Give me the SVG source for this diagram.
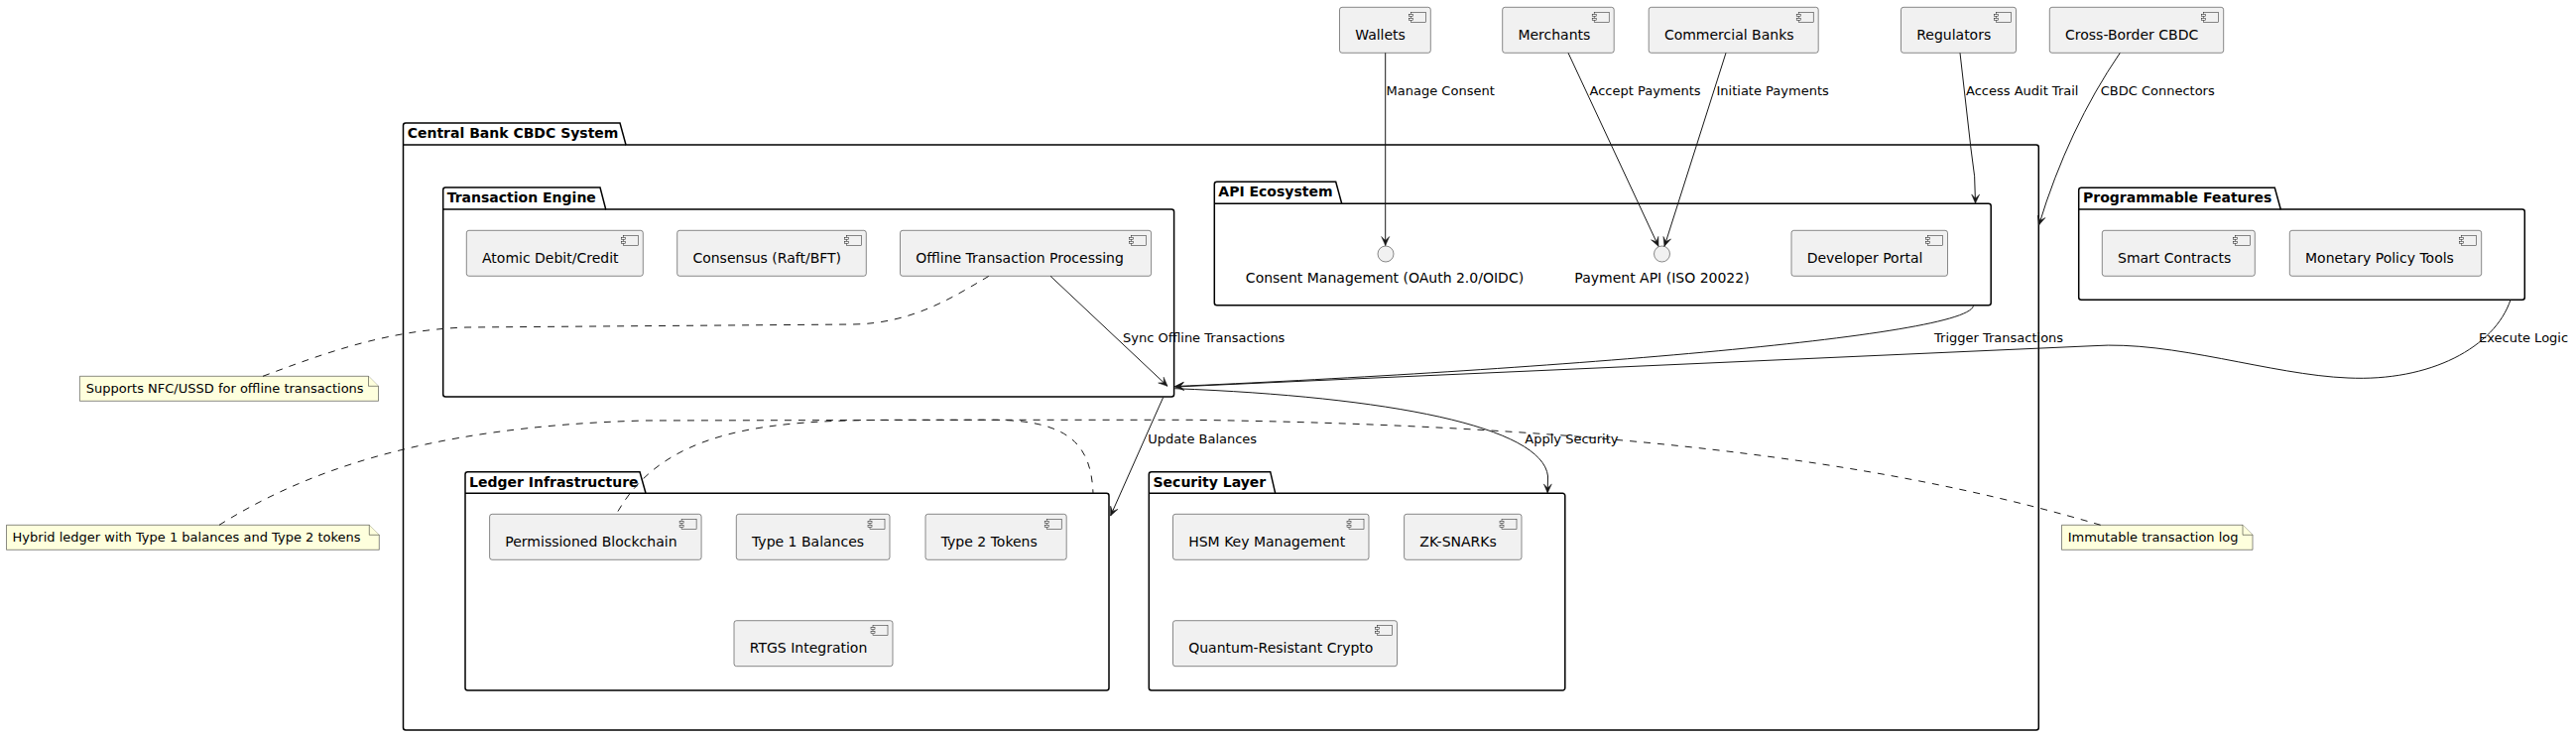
<svg xmlns="http://www.w3.org/2000/svg" xmlns:xlink="http://www.w3.org/1999/xlink" width="2597" height="742" viewBox="0 0 2597 742">
<style>
  .pkg { fill: none; stroke: #000000; stroke-width: 1.5; }
  .pkgt { font-family: "DejaVu Sans", "Liberation Sans", sans-serif; font-size: 14px; font-weight: bold; fill: #000000; }
  .comp { fill: #F1F1F1; stroke: #181818; stroke-width: 0.5; }
  .ct { font-family: "DejaVu Sans", "Liberation Sans", sans-serif; font-size: 14px; fill: #000000; }
  .lt { font-family: "DejaVu Sans", "Liberation Sans", sans-serif; font-size: 13px; fill: #000000; }
  .note { fill: #FEFFDD; stroke: #181818; stroke-width: 0.5; }
  .edge { fill: none; stroke: #181818; stroke-width: 1; }
  .dash { fill: none; stroke: #181818; stroke-width: 1; stroke-dasharray: 7,7; }
  .ifc { fill: #F1F1F1; stroke: #181818; stroke-width: 0.5; }
</style>
<defs>
  <g id="cicon" class="comp">
    <rect x="-20" y="5" width="15" height="10"/>
    <rect x="-22" y="7" width="4" height="2"/>
    <rect x="-22" y="11" width="4" height="2"/>
  </g>
  <marker id="ah" viewBox="-10 -5 11 10" refX="0" refY="0" markerWidth="11" markerHeight="10" markerUnits="userSpaceOnUse" orient="auto">
    <path d="M0,0 L-9,-4 L-5,0 L-9,4 Z" fill="#181818" stroke="#181818" stroke-width="0.5"/>
  </marker>
</defs>
<rect width="2597" height="742" fill="#FFFFFF"/>

<!-- Packages -->
<g id="pkg-central-bank">
  <path class="pkg" d="M409,124 L625,124 L631,146 L2052.8,146 A2.5,2.5 0 0 1 2055.3,148.5 L2055.3,733.5 A2.5,2.5 0 0 1 2052.8,736 L409,736 A2.5,2.5 0 0 1 406.5,733.5 L406.5,126.5 A2.5,2.5 0 0 1 409,124 Z"/>
  <line class="pkg" x1="406.5" y1="146" x2="631" y2="146"/>
  <text class="pkgt" x="410.7" y="138.5">Central Bank CBDC System</text>
</g>
<g id="pkg-transaction-engine">
  <path class="pkg" d="M449.2,189 L605,189 L610.7,211 L1181.1,211 A2.5,2.5 0 0 1 1183.6,213.5 L1183.6,397.5 A2.5,2.5 0 0 1 1181.1,400 L449.2,400 A2.5,2.5 0 0 1 446.7,397.5 L446.7,191.5 A2.5,2.5 0 0 1 449.2,189 Z"/>
  <line class="pkg" x1="446.7" y1="211" x2="610.7" y2="211"/>
  <text class="pkgt" x="450.7" y="203.5">Transaction Engine</text>
</g>
<g id="pkg-api-ecosystem">
  <path class="pkg" d="M1226.8,183.3 L1346.7,183.3 L1352.7,205.3 L2004.7,205.3 A2.5,2.5 0 0 1 2007.2,207.8 L2007.2,305.3 A2.5,2.5 0 0 1 2004.7,307.8 L1226.8,307.8 A2.5,2.5 0 0 1 1224.3,305.3 L1224.3,185.8 A2.5,2.5 0 0 1 1226.8,183.3 Z"/>
  <line class="pkg" x1="1224.3" y1="205.3" x2="1352.7" y2="205.3"/>
  <text class="pkgt" x="1228.3" y="198.3">API Ecosystem</text>
</g>
<g id="pkg-programmable">
  <path class="pkg" d="M2098.2,189.3 L2293.3,189.3 L2299.3,211 L2542.8,211 A2.5,2.5 0 0 1 2545.3,213.5 L2545.3,299.8 A2.5,2.5 0 0 1 2542.8,302.3 L2098.2,302.3 A2.5,2.5 0 0 1 2095.7,299.8 L2095.7,191.8 A2.5,2.5 0 0 1 2098.2,189.3 Z"/>
  <line class="pkg" x1="2095.7" y1="211" x2="2299.3" y2="211"/>
  <text class="pkgt" x="2100" y="204">Programmable Features</text>
</g>
<g id="pkg-ledger">
  <path class="pkg" d="M471.5,475.7 L645,475.7 L651,497.3 L1115.5,497.3 A2.5,2.5 0 0 1 1118,499.8 L1118,693.5 A2.5,2.5 0 0 1 1115.5,696 L471.5,696 A2.5,2.5 0 0 1 469,693.5 L469,478.2 A2.5,2.5 0 0 1 471.5,475.7 Z"/>
  <line class="pkg" x1="469" y1="497.3" x2="651" y2="497.3"/>
  <text class="pkgt" x="473" y="490.5">Ledger Infrastructure</text>
</g>
<g id="pkg-security">
  <path class="pkg" d="M1160.8,475.7 L1280.7,475.7 L1285.7,497.3 L1575.3,497.3 A2.5,2.5 0 0 1 1577.8,499.8 L1577.8,693.5 A2.5,2.5 0 0 1 1575.3,696 L1160.8,696 A2.5,2.5 0 0 1 1158.3,693.5 L1158.3,478.2 A2.5,2.5 0 0 1 1160.8,475.7 Z"/>
  <line class="pkg" x1="1158.3" y1="497.3" x2="1285.7" y2="497.3"/>
  <text class="pkgt" x="1162.5" y="490.5">Security Layer</text>
</g>

<!-- External components -->
<g id="wallets"><rect class="comp" x="1350.5" y="7.3" width="91.8" height="46" rx="2.5"/><use xlink:href="#cicon" href="#cicon" x="1442.3" y="7.3"/><text class="ct" x="1366.2" y="40">Wallets</text></g>
<g id="merchants"><rect class="comp" x="1514.7" y="7.3" width="112.5" height="46" rx="2.5"/><use xlink:href="#cicon" href="#cicon" x="1627.2" y="7.3"/><text class="ct" x="1530.4" y="40">Merchants</text></g>
<g id="commercial-banks"><rect class="comp" x="1662.2" y="7.3" width="171" height="46" rx="2.5"/><use xlink:href="#cicon" href="#cicon" x="1833.2" y="7.3"/><text class="ct" x="1677.9" y="40">Commercial Banks</text></g>
<g id="regulators"><rect class="comp" x="1916.5" y="7.3" width="116" height="46" rx="2.5"/><use xlink:href="#cicon" href="#cicon" x="2032.5" y="7.3"/><text class="ct" x="1932.2" y="40">Regulators</text></g>
<g id="cross-border"><rect class="comp" x="2066.3" y="7.3" width="175.4" height="46" rx="2.5"/><use xlink:href="#cicon" href="#cicon" x="2241.7" y="7.3"/><text class="ct" x="2082" y="40">Cross-Border CBDC</text></g>

<!-- Transaction Engine components -->
<g id="atomic"><rect class="comp" x="470.3" y="232.3" width="178" height="46" rx="2.5"/><use xlink:href="#cicon" href="#cicon" x="648.3" y="232.3"/><text class="ct" x="486" y="265">Atomic Debit/Credit</text></g>
<g id="consensus"><rect class="comp" x="682.7" y="232.3" width="190.6" height="46" rx="2.5"/><use xlink:href="#cicon" href="#cicon" x="873.3" y="232.3"/><text class="ct" x="698.4" y="265">Consensus (Raft/BFT)</text></g>
<g id="offline"><rect class="comp" x="907.5" y="232.3" width="253.1" height="46" rx="2.5"/><use xlink:href="#cicon" href="#cicon" x="1160.6" y="232.3"/><text class="ct" x="923.2" y="265">Offline Transaction Processing</text></g>

<!-- API Ecosystem -->
<g id="consent-api"><circle class="ifc" cx="1397" cy="256" r="8"/><text class="ct" x="1396" y="285" text-anchor="middle">Consent Management (OAuth 2.0/OIDC)</text></g>
<g id="payment-api"><circle class="ifc" cx="1675.5" cy="256" r="8"/><text class="ct" x="1675.5" y="285" text-anchor="middle">Payment API (ISO 20022)</text></g>
<g id="developer-portal"><rect class="comp" x="1806" y="232.3" width="157.5" height="46" rx="2.5"/><use xlink:href="#cicon" href="#cicon" x="1963.5" y="232.3"/><text class="ct" x="1821.7" y="265">Developer Portal</text></g>

<!-- Programmable Features -->
<g id="smart-contracts"><rect class="comp" x="2119.3" y="232.3" width="154" height="46" rx="2.5"/><use xlink:href="#cicon" href="#cicon" x="2273.3" y="232.3"/><text class="ct" x="2135" y="265">Smart Contracts</text></g>
<g id="monetary-policy"><rect class="comp" x="2308.3" y="232.3" width="193.4" height="46" rx="2.5"/><use xlink:href="#cicon" href="#cicon" x="2501.7" y="232.3"/><text class="ct" x="2324" y="265">Monetary Policy Tools</text></g>

<!-- Ledger -->
<g id="permissioned"><rect class="comp" x="493.6" y="518.3" width="213.5" height="46" rx="2.5"/><use xlink:href="#cicon" href="#cicon" x="707.1" y="518.3"/><text class="ct" x="509.3" y="551">Permissioned Blockchain</text></g>
<g id="type1"><rect class="comp" x="742.3" y="518.3" width="154.7" height="46" rx="2.5"/><use xlink:href="#cicon" href="#cicon" x="897" y="518.3"/><text class="ct" x="758" y="551">Type 1 Balances</text></g>
<g id="type2"><rect class="comp" x="933" y="518.3" width="142.2" height="46" rx="2.5"/><use xlink:href="#cicon" href="#cicon" x="1075.2" y="518.3"/><text class="ct" x="948.7" y="551">Type 2 Tokens</text></g>
<g id="rtgs"><rect class="comp" x="740" y="625.7" width="160" height="46" rx="2.5"/><use xlink:href="#cicon" href="#cicon" x="900" y="625.7"/><text class="ct" x="755.7" y="658.4">RTGS Integration</text></g>

<!-- Security -->
<g id="hsm"><rect class="comp" x="1182.5" y="518.3" width="197.5" height="46" rx="2.5"/><use xlink:href="#cicon" href="#cicon" x="1380" y="518.3"/><text class="ct" x="1198.2" y="551">HSM Key Management</text></g>
<g id="zk"><rect class="comp" x="1415.6" y="518.3" width="118.4" height="46" rx="2.5"/><use xlink:href="#cicon" href="#cicon" x="1534" y="518.3"/><text class="ct" x="1431.3" y="551">ZK-SNARKs</text></g>
<g id="quantum"><rect class="comp" x="1182.5" y="625.7" width="226" height="46" rx="2.5"/><use xlink:href="#cicon" href="#cicon" x="1408.5" y="625.7"/><text class="ct" x="1198.2" y="658.4">Quantum-Resistant Crypto</text></g>

<!-- Notes -->
<g id="note-offline">
  <path class="note" d="M80.4,379.3 L371.5,379.3 L381.5,389.3 L381.5,404.3 L80.4,404.3 Z"/>
  <path class="note" d="M371.5,379.3 L371.5,389.3 L381.5,389.3" fill="none"/>
  <text class="lt" x="86.8" y="396">Supports NFC/USSD for offline transactions</text>
</g>
<g id="note-hybrid">
  <path class="note" d="M6.5,529.3 L372.3,529.3 L382.3,539.3 L382.3,554.3 L6.5,554.3 Z"/>
  <path class="note" d="M372.3,529.3 L372.3,539.3 L382.3,539.3" fill="none"/>
  <text class="lt" x="12.6" y="546">Hybrid ledger with Type 1 balances and Type 2 tokens</text>
</g>
<g id="note-immutable">
  <path class="note" d="M2078.5,529.3 L2261,529.3 L2271,539.3 L2271,554.3 L2078.5,554.3 Z"/>
  <path class="note" d="M2261,529.3 L2261,539.3 L2271,539.3" fill="none"/>
  <text class="lt" x="2084.7" y="546">Immutable transaction log</text>
</g>

<!-- Connectors -->
<g id="connectors">
  <path class="edge" d="M1396.7,53.3 L1396.7,247.5" marker-end="url(#ah)"/>
  <path class="edge" d="M1581,53.3 L1672,248.3" marker-end="url(#ah)"/>
  <path class="edge" d="M1740,53.3 L1678,248.3" marker-end="url(#ah)"/>
  <path class="edge" d="M1976,53.3 L1987,150 Q1992,178 1991.5,205" marker-end="url(#ah)"/>
  <path class="edge" d="M2137.3,53.3 Q2085,130 2055.5,227" marker-end="url(#ah)"/>
  <path class="edge" d="M1059,278.3 L1177,389.3" marker-end="url(#ah)"/>
  <path class="edge" d="M1989.5,308.3 C1982,342 1500,376 1184.5,389.5" marker-end="url(#ah)"/>
  <path class="edge" d="M2531,302.3 C2515,350 2450,385 2367,381 C2290,378 2190,343 2110,348.7 L1184.5,390" marker-end="url(#ah)"/>
  <path class="edge" d="M1172.7,400.5 L1119.6,520" marker-end="url(#ah)"/>
  <path class="edge" d="M1184.3,391.7 C1400,400 1555,430 1560.5,480 L1560.2,497" marker-end="url(#ah)"/>

  <path class="dash" d="M265,379.3 C330,355 390,333 470,330 L860,327 C920,326 960,300 997,278.3"/>
  <path class="dash" d="M221,529.3 C300,480 420,430 650,424 L1000,423.3 C1080,423.3 1100,450 1102,497.3"/>
  <path class="dash" d="M2117.7,529.3 C1950,480 1700,430 1200,423.3 L900,423.3 C780,424 670,430 621.4,518.3"/>

  <text class="lt" x="1397.6" y="96">Manage Consent</text>
  <text class="lt" x="1602.5" y="96">Accept Payments</text>
  <text class="lt" x="1730.5" y="96">Initiate Payments</text>
  <text class="lt" x="1982" y="96">Access Audit Trail</text>
  <text class="lt" x="2117.7" y="96">CBDC Connectors</text>
  <text class="lt" x="1132" y="344.5">Sync Offline Transactions</text>
  <text class="lt" x="1950" y="344.5">Trigger Transactions</text>
  <text class="lt" x="2499" y="344.5">Execute Logic</text>
  <text class="lt" x="1157.3" y="446.7">Update Balances</text>
  <text class="lt" x="1537.3" y="446.7">Apply Security</text>
</g>
</svg>
